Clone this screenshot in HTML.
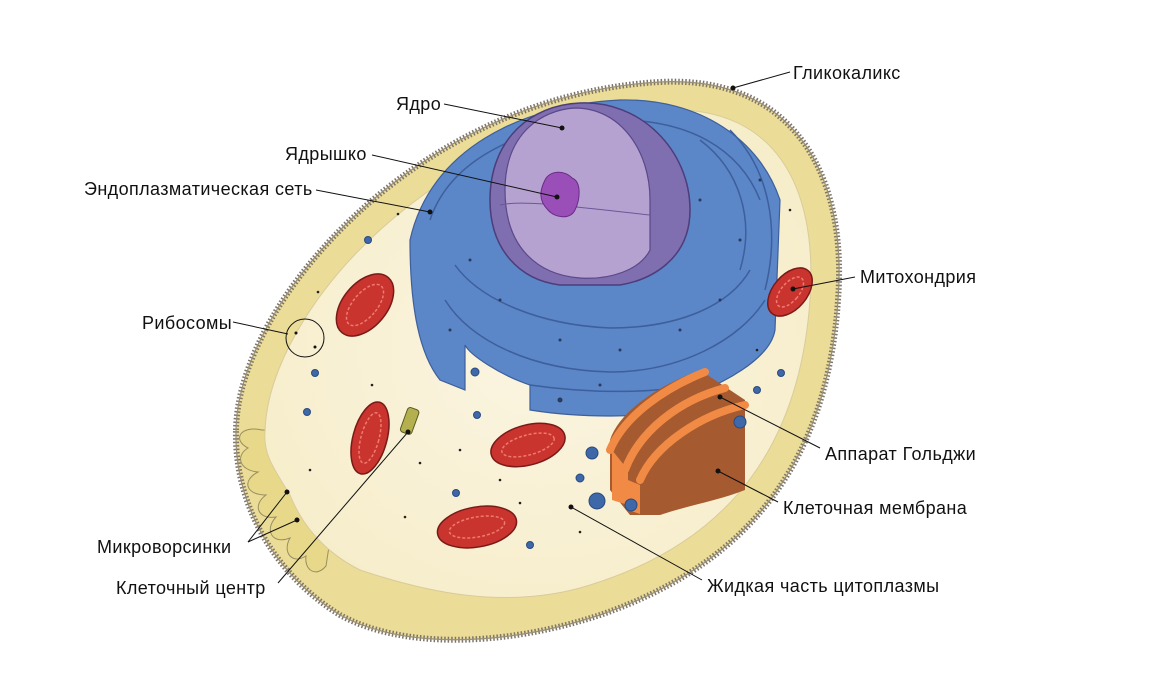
<!DOCTYPE html>
<html><head><meta charset="utf-8"><style>
html,body{margin:0;padding:0;background:#fff;}
svg{display:block;}
text{font-family:"Liberation Sans",sans-serif;font-size:18px;letter-spacing:0.4px;fill:#111;}
</style></head><body>
<svg width="1174" height="689" viewBox="0 0 1174 689" xmlns="http://www.w3.org/2000/svg">
<defs>
<radialGradient id="cyt" cx="0.5" cy="0.5" r="0.6"><stop offset="0" stop-color="#fbf5e2"/><stop offset="1" stop-color="#f6edc9"/></radialGradient>
</defs>
<path d="M236,430 C238,300 420,95 660,82 C790,75 848,170 838,300 C828,450 760,560 600,615 C500,648 400,648 340,615 C275,575 234,505 236,430 Z" fill="#ebdc97" stroke="#7d7568" stroke-width="6" stroke-dasharray="1.5 2"/>
<path d="M236,430 C238,300 420,95 660,82 C790,75 848,170 838,300 C828,450 760,560 600,615 C500,648 400,648 340,615 C275,575 234,505 236,430 Z" fill="none" stroke="#9a8f7a" stroke-width="1.2"/>
<path d="M262,430 C240,425 232,440 248,448 C236,455 238,470 258,472 C242,480 245,495 266,495 C252,505 258,520 276,517 C264,530 272,545 290,538 C282,552 292,565 306,556 C304,570 316,578 326,566 L330,540 L270,430Z" fill="#e8d98a" stroke="#9a8f60" stroke-width="1"/>
<path d="M265,432 C268,310 440,120 660,110 C775,104 818,185 810,300 C800,440 735,540 590,585 C505,612 420,590 360,570 C320,550 300,520 290,495 C275,470 263,455 265,432 Z" fill="url(#cyt)" stroke="#d9cc9a" stroke-width="1"/>
<g fill="#5b86c8" stroke="#3d5f9c" stroke-width="1.2">
<path d="M410,240 C430,150 520,105 620,100 C700,98 760,140 780,200 L775,330 C770,360 720,385 690,395 L690,410 C640,418 580,418 530,410 L530,385 C500,375 470,355 465,345 L465,390 L440,380 C420,355 410,310 410,240 Z"/>
</g>
<g fill="none" stroke="#3d5f9c" stroke-width="1.5">
<path d="M430,220 C450,160 520,125 610,120 C690,118 740,150 760,200"/>
<path d="M445,300 C470,340 530,370 610,372 C680,372 740,340 765,300"/>
<path d="M455,265 C480,300 540,325 610,328 C680,328 730,305 750,270"/>
<path d="M700,140 C740,170 755,220 740,270"/>
<path d="M730,130 C770,170 780,230 765,290"/>
<path d="M530,385 C600,395 660,392 690,385"/>
</g>
<g fill="#2a3a5a">
<circle cx="470" cy="260" r="1.5"/><circle cx="500" cy="300" r="1.5"/><circle cx="560" cy="340" r="1.5"/><circle cx="620" cy="350" r="1.5"/><circle cx="680" cy="330" r="1.5"/><circle cx="720" cy="300" r="1.5"/><circle cx="740" cy="240" r="1.5"/><circle cx="760" cy="180" r="1.5"/><circle cx="450" cy="330" r="1.5"/><circle cx="560" cy="400" r="2.5"/><circle cx="600" cy="385" r="1.5"/><circle cx="700" cy="200" r="1.5"/>
</g>
<path d="M490,200 C490,140 530,105 580,103 C640,100 690,150 690,210 C690,260 650,280 620,285 L560,285 C520,280 490,250 490,200 Z" fill="#7f6fb0" stroke="#4d3d7a" stroke-width="1.5"/>
<path d="M505,190 C505,135 540,110 575,108 C620,108 650,150 650,200 L650,250 C640,270 610,280 580,278 C540,275 505,250 505,190 Z" fill="#b6a2d0" stroke="#5a4888" stroke-width="1.2"/>
<path d="M500,205 C520,200 560,205 650,215" fill="none" stroke="#6a5898" stroke-width="1"/>
<path d="M545,180 C550,170 565,170 572,178 C582,182 580,200 575,210 C570,220 555,218 548,210 C538,200 540,190 545,180 Z" fill="#9a4fb8" stroke="#6a2b88" stroke-width="1"/>
<path d="M610,440 C620,410 660,385 700,370 L745,400 L745,490 C720,500 690,505 660,515 L630,515 L610,490 Z" fill="#a65a30"/>
<path d="M610,450 C625,415 665,388 705,372" fill="none" stroke="#f08a45" stroke-width="8" stroke-linecap="round"/>
<path d="M625,470 C640,430 680,400 725,388" fill="none" stroke="#f08a45" stroke-width="8" stroke-linecap="round"/>
<path d="M640,480 C655,445 700,415 745,405" fill="none" stroke="#f08a45" stroke-width="8" stroke-linecap="round"/>
<path d="M612,450 L612,500 L628,505 L628,470Z M628,480 L628,510 L640,514 L640,485Z" fill="#f08a45"/>
<g fill="#c9342e" stroke="#7a1a18" stroke-width="1.5">
<ellipse cx="365" cy="305" rx="22" ry="36" transform="rotate(40 365 305)"/>
<ellipse cx="370" cy="438" rx="17" ry="37" transform="rotate(15 370 438)"/>
<ellipse cx="528" cy="445" rx="38" ry="20" transform="rotate(-15 528 445)"/>
<ellipse cx="477" cy="527" rx="40" ry="20" transform="rotate(-10 477 527)"/>
<ellipse cx="790" cy="292" rx="17" ry="28" transform="rotate(40 790 292)"/>
</g>
<g fill="none" stroke="#f07a70" stroke-width="1.5" stroke-dasharray="3 2">
<ellipse cx="365" cy="305" rx="12" ry="25" transform="rotate(40 365 305)"/>
<ellipse cx="370" cy="438" rx="9" ry="26" transform="rotate(15 370 438)"/>
<ellipse cx="528" cy="445" rx="27" ry="10" transform="rotate(-15 528 445)"/>
<ellipse cx="477" cy="527" rx="28" ry="10" transform="rotate(-10 477 527)"/>
<ellipse cx="790" cy="292" rx="9" ry="18" transform="rotate(40 790 292)"/>
</g>
<rect x="404" y="408" width="12" height="26" rx="3" fill="#b4b050" stroke="#5a5a20" transform="rotate(20 410 420)"/>
<g fill="#3f68a8" stroke="#2a4a80">
<circle cx="368" cy="240" r="3.5"/><circle cx="315" cy="373" r="3.5"/><circle cx="475" cy="372" r="4"/><circle cx="307" cy="412" r="3.5"/><circle cx="477" cy="415" r="3.5"/><circle cx="592" cy="453" r="6"/><circle cx="580" cy="478" r="4"/><circle cx="597" cy="501" r="8"/><circle cx="757" cy="390" r="3.5"/><circle cx="781" cy="373" r="3.5"/><circle cx="740" cy="422" r="6"/><circle cx="631" cy="505" r="6"/><circle cx="456" cy="493" r="3.5"/><circle cx="530" cy="545" r="3.5"/>
</g>
<g fill="#222"><circle cx="398" cy="214" r="1.3"/><circle cx="318" cy="292" r="1.3"/><circle cx="372" cy="385" r="1.3"/><circle cx="310" cy="470" r="1.3"/><circle cx="420" cy="463" r="1.3"/><circle cx="460" cy="450" r="1.3"/><circle cx="500" cy="480" r="1.3"/><circle cx="520" cy="503" r="1.3"/><circle cx="580" cy="532" r="1.3"/><circle cx="790" cy="210" r="1.3"/><circle cx="757" cy="350" r="1.3"/><circle cx="405" cy="517" r="1.3"/></g>
<g stroke="#111" stroke-width="1" fill="none">
<line x1="733" y1="88" x2="790" y2="72"/>
<line x1="444" y1="104" x2="562" y2="128"/>
<line x1="372" y1="155" x2="557" y2="197"/>
<line x1="316" y1="190" x2="430" y2="212"/>
<line x1="855" y1="277" x2="793" y2="289"/>
<line x1="233" y1="322" x2="288" y2="334"/>
<circle cx="305" cy="338" r="19"/>
<line x1="820" y1="448" x2="720" y2="397"/>
<line x1="778" y1="502" x2="718" y2="471"/>
<line x1="248" y1="542" x2="287" y2="492"/>
<line x1="248" y1="542" x2="297" y2="520"/>
<line x1="278" y1="583" x2="408" y2="432"/>
<line x1="702" y1="580" x2="571" y2="507"/>
</g>
<g fill="#111"><circle cx="733" cy="88" r="2.5"/><circle cx="562" cy="128" r="2.5"/><circle cx="557" cy="197" r="2.5"/><circle cx="430" cy="212" r="2.5"/><circle cx="793" cy="289" r="2.5"/><circle cx="720" cy="397" r="2.5"/><circle cx="718" cy="471" r="2.5"/><circle cx="287" cy="492" r="2.5"/><circle cx="297" cy="520" r="2.5"/><circle cx="408" cy="432" r="2.5"/><circle cx="571" cy="507" r="2.5"/><circle cx="296" cy="333" r="1.5"/><circle cx="315" cy="347" r="1.5"/></g>
<text x="793" y="79">Гликокаликс</text>
<text x="396" y="110">Ядро</text>
<text x="285" y="160">Ядрышко</text>
<text x="84" y="195">Эндоплазматическая сеть</text>
<text x="860" y="283">Митохондрия</text>
<text x="142" y="329">Рибосомы</text>
<text x="825" y="460">Аппарат Гольджи</text>
<text x="783" y="514">Клеточная мембрана</text>
<text x="97" y="553">Микроворсинки</text>
<text x="116" y="594">Клеточный центр</text>
<text x="707" y="592">Жидкая часть цитоплазмы</text>
</svg>
</body></html>
